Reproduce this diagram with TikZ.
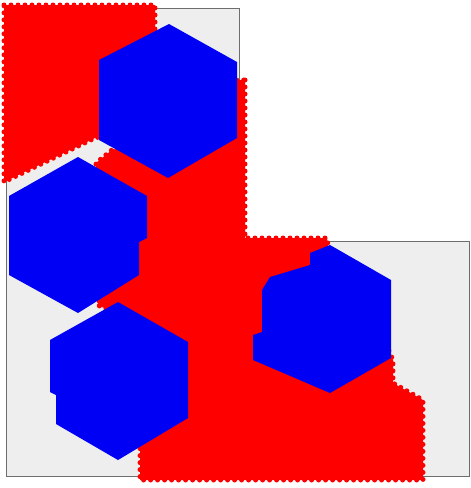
\documentclass[tikz,border=0pt]{standalone}
\usepackage{tikz}
\definecolor{cellred}{RGB}{255,0,0}
\definecolor{cellblue}{RGB}{0,0,245}
\definecolor{domgray}{RGB}{238,238,238}
\definecolor{framegray}{RGB}{110,110,110}
\begin{document}
\begin{tikzpicture}[x=1pt, y=-1pt,
        lshape/.style={fill=domgray, draw=framegray, line width=1pt},
        redzone/.style={fill=cellred, draw=cellred, line width=5pt, line cap=round, dash pattern=on 0pt off 7pt},
        bluecell/.style={fill=cellblue}
    ]
        \useasboundingbox (0,0) rectangle (471,488);
        \path[lshape] (6,8) -- (239,8) -- (239,241) -- (469,241) -- (469,476) -- (6,476) -- cycle;

        \path[redzone] (4,5) -- (155,5) -- (155,31) -- (140,50) -- (130,130) -- (95,138) -- (4,182) -- cycle;
        \path[redzone] (245,80) -- (245,238) -- (327,238) -- (330,262) -- (382,335) -- (393,360) -- (393,383)
            -- (423,400) -- (423,480) -- (140,480) -- (140,447) -- (165,430) -- (165,340) -- (125,316)
            -- (97,305) -- (106,290) -- (135,270) -- (135,200) -- (96,174) -- (96,163) -- (113,149)
            -- (140,154) -- (165,162) -- (232,120) -- (237,80) -- cycle;

        \fill[bluecell] (169,24) -- (237,62) -- (237,138) -- (168,178) -- (99,140) -- (99,60) -- cycle;
        \fill[bluecell] (78,157) -- (147,196) -- (147,238) -- (139,242) -- (139,275) -- (78,313) -- (9,275) -- (9,196) -- cycle;
        \fill[bluecell] (118,302) -- (188,342) -- (188,418) -- (118,460) -- (56,424) -- (56,395) -- (50,392) -- (50,340) -- cycle;
        \fill[bluecell] (330,245) -- (391,280) -- (391,358) -- (330,393) -- (253,360) -- (253,335) -- (262,332)
            -- (262,290) -- (270,277) -- (310,265) -- (310,253) -- cycle;
\end{tikzpicture}
\end{document}
